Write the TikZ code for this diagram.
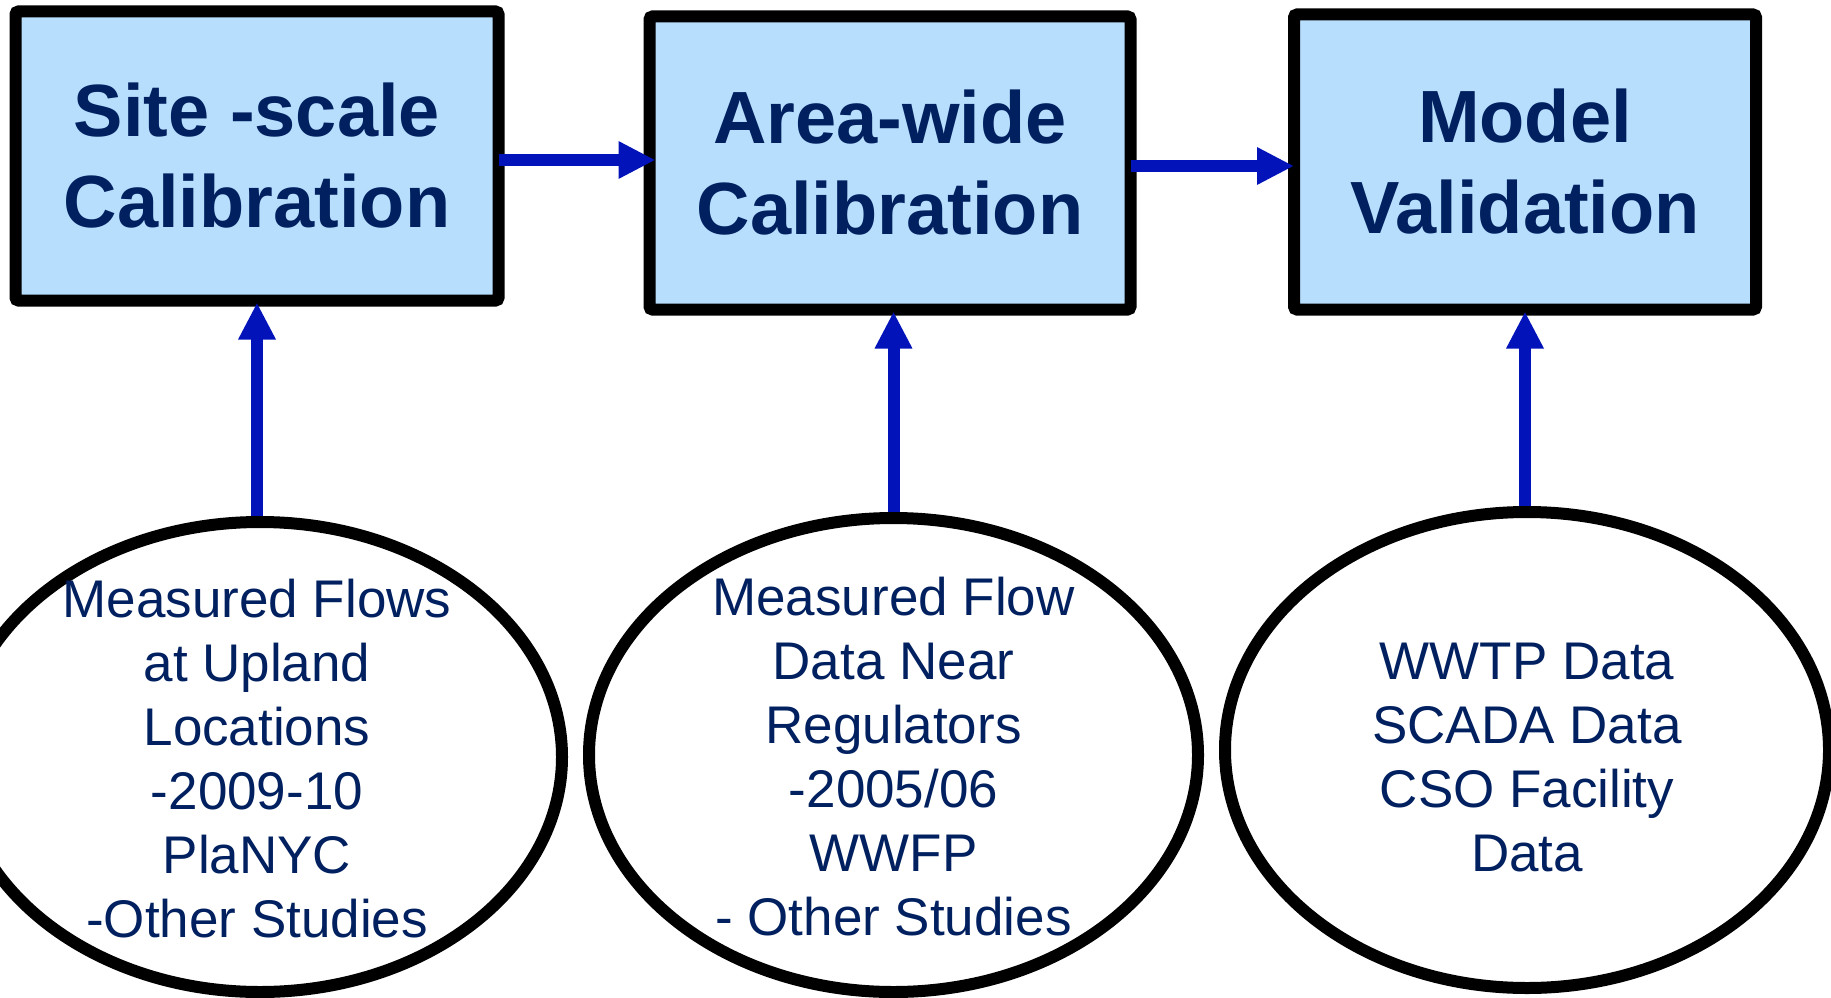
\documentclass[tikz,border=0pt]{standalone}
\usepackage{fontspec}
\setmainfont{Liberation Sans}
\usetikzlibrary{arrows.meta,shapes.geometric,calc}
\definecolor{navy}{RGB}{0,32,96}
\definecolor{boxfill}{RGB}{183,222,253}
\definecolor{arrowblue}{RGB}{2,20,185}
\begin{document}
\begin{tikzpicture}[x=1pt,y=-1pt,
  stagebox/.style={draw=black, line width=12pt, fill=boxfill, rounded corners=3pt, outer sep=0pt, inner sep=0pt, align=center, text=navy, font=\fontsize{74}{91}\selectfont\bfseries},
  source/.style={ellipse, draw=black, line width=12pt, fill=white, inner sep=0pt},
  srctext/.style={align=center, text=navy, inner sep=0pt, font=\fontsize{53}{64}\selectfont},
  flow/.style={draw=arrowblue, line width=12pt, -{Triangle[length=37pt,width=35pt]}}]
\path[use as bounding box] (0,0) rectangle (1831,998);
\clip (0,0) rectangle (1831,998);
\node[stagebox, minimum width=483pt, minimum height=289pt] (b1) at (257,156) {Site -scale\\Calibration};
\node[stagebox, minimum width=481pt, minimum height=293pt] (b2) at (890,163) {Area-wide\\Calibration};
\node[stagebox, minimum width=462pt, minimum height=295pt] (b3) at (1525,162) {Model\\Validation};
\node[source, minimum width=604pt, minimum height=470pt] (e1) at (260,757) {};
\node[source, minimum width=609pt, minimum height=474pt] (e2) at (893.5,755) {};
\node[source, minimum width=604pt, minimum height=476pt] (e3) at (1527,750) {};
\node[srctext] (t1) at ($(e1.center)+(-3,2)$) {Measured Flows\\at Upland\\Locations\\-2009-10\\PlaNYC\\-Other Studies};
\node[srctext] (t2) at ($(e2.center)+(0,2)$) {Measured Flow\\Data Near\\Regulators\\-2005/06\\WWFP\\- Other Studies};
\node[srctext] (t3) at ($(e3.center)+(0,8)$) {WWTP Data\\SCADA Data\\CSO Facility\\Data};
\draw[flow] (b1.east |- 0,160) -- ($(b2.west |- 0,160)+(6,0)$);
\draw[flow] (b2.east |- 0,166) -- (b3.west |- 0,166);
\draw[flow] (e1.north -| b1.south) -- ($(b1.south)+(0,2)$);
\draw[flow] (e2.north) -- ($(e2.north |- b2.south)+(0,2)$);
\draw[flow] (e3.north -| b3.south) -- ($(b3.south)+(0,2)$);
\end{tikzpicture}
\end{document}
